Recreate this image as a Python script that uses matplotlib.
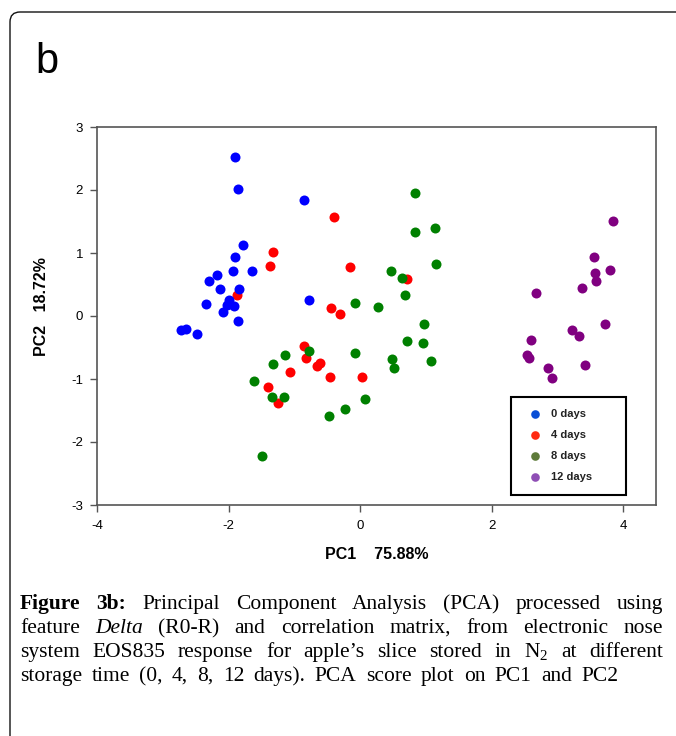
import numpy as np
import matplotlib
matplotlib.use("Agg")
import matplotlib.pyplot as plt
from matplotlib.patches import FancyBboxPatch
from matplotlib.lines import Line2D
from matplotlib.transforms import IdentityTransform

plt.rcParams['font.family'] = ['Liberation Sans', 'DejaVu Sans']
plt.rcParams['mathtext.fontset'] = 'custom'
plt.rcParams['mathtext.rm'] = 'Liberation Serif'
plt.rcParams['axes.unicode_minus'] = False

# PCA scores
pc1_0d = [-1.90, -1.85, -1.78, -1.90, -1.93, -1.65, -2.17, -2.30, -2.13, -1.84, -1.99,
          -2.03, -1.92, -2.35, -2.08, -1.85, -2.73, -2.64, -2.48, -0.86, -0.77]
pc2_0d = [2.52, 2.01, 1.12, 0.93, 0.71, 0.72, 0.65, 0.55, 0.43, 0.43, 0.25,
          0.17, 0.16, 0.19, 0.06, -0.08, -0.22, -0.20, -0.28, 1.84, 0.25]

pc1_4d = [-0.40, -1.32, -1.37, -0.16, 0.71, -1.87, -0.44, -0.31, -0.85, -0.82, -0.61,
          -0.66, -1.07, -0.45, 0.03, -1.40, -1.25]
pc2_4d = [1.57, 1.02, 0.80, 0.78, 0.59, 0.34, 0.13, 0.03, -0.47, -0.67, -0.74,
          -0.79, -0.89, -0.97, -0.97, -1.12, -1.38]

pc1_8d = [0.84, 0.84, 1.14, 1.16, 0.47, 0.64, 0.69, -0.07, 0.27, 0.97, 0.72, 0.95, 1.08,
          0.49, 0.51, -0.07, -0.77, -1.14, -1.32, -1.61, -1.34, -1.15, 0.08, -0.23, -0.47, -1.49]
pc2_8d = [1.95, 1.33, 1.39, 0.83, 0.72, 0.60, 0.33, 0.20, 0.14, -0.12, -0.39, -0.43, -0.71,
          -0.68, -0.82, -0.59, -0.55, -0.62, -0.76, -1.03, -1.28, -1.28, -1.31, -1.48, -1.58, -2.22]

pc1_12d = [3.85, 3.55, 3.58, 3.80, 3.59, 3.38, 2.67, 3.72, 3.23, 3.33, 2.60, 2.54, 2.57,
           3.42, 2.86, 2.92]
pc2_12d = [1.51, 0.93, 0.69, 0.73, 0.56, 0.45, 0.36, -0.13, -0.23, -0.31, -0.38, -0.62, -0.67,
           -0.77, -0.82, -0.98]

labels = ["0 days", "4 days", "8 days", "12 days"]
colors = ["#0000ff", "#ff0000", "#008000", "#800080"]
legend_colors = ["#0a4fd6", "#ff2a12", "#5e7b3a", "#8f4fb5"]

xticks = [-4, -2, 0, 2, 4]
yticks = [-3, -2, -1, 0, 1, 2, 3]

fig = plt.figure(figsize=(6.76, 7.36), dpi=100)

# rounded frame around the panel (runs off the right and bottom edges)
frame = FancyBboxPatch((10, -200), 2000, 724 + 200, boxstyle="round,pad=0,rounding_size=10",
                       transform=IdentityTransform(), fill=False, edgecolor="#111111", lw=1.0)
fig.add_artist(frame)

fig.text(35 / 676, 1 - 73 / 736, "b", fontsize=30, va="baseline")

ax = fig.add_axes([97 / 676, 1 - 505 / 736, 559 / 676, 378 / 736])
ax.plot(pc1_4d, pc2_4d, 'o', color=colors[1], ms=7.2, mec='none', zorder=2)
ax.plot(pc1_0d, pc2_0d, 'o', color=colors[0], ms=7.2, mec='none', zorder=3)
ax.plot(pc1_8d, pc2_8d, 'o', color=colors[2], ms=7.2, mec='none', zorder=4)
ax.plot(pc1_12d, pc2_12d, 'o', color=colors[3], ms=7.2, mec='none', zorder=5)

ax.set_xlim(-4, 4.5)
ax.set_ylim(-3, 3)
ax.set_xticks(xticks)
ax.set_yticks(yticks)
ax.tick_params(direction='out', length=5, width=1, color='#555555', labelsize=9.5)
ax.tick_params(axis='x', pad=6)
ax.tick_params(axis='y', pad=5)
for s in ax.spines.values():
    s.set_color('#555555')
    s.set_linewidth(1.2)

ax.set_xlabel("PC1    75.88%", fontsize=11.5, fontweight='bold')
ax.xaxis.set_label_coords(0.5, -0.112)
ax.set_ylabel("PC2   18.72%", fontsize=11.5, fontweight='bold')
ax.yaxis.set_label_coords(-0.085, 0.525)

handles = [Line2D([], [], marker='o', ls='', color=c, ms=6.2, mec='none') for c in legend_colors]
leg = ax.legend(handles, labels, loc='upper left', bbox_to_anchor=(0.741, 0.0317, 0.205, 0.254),
                mode='expand', borderaxespad=0, fancybox=False, framealpha=1,
                prop={'size': 8, 'weight': 'bold'}, labelspacing=0.99, borderpad=1.12,
                handlelength=2.0, handletextpad=0.5, labelcolor='#222222')
leg.get_frame().set_edgecolor('black')
leg.get_frame().set_linewidth(1.5)

# caption, justified word by word
def words(s, weight='normal', style='normal'):
    return [(w, weight, style) for w in s.split()]

cap_lines = [
    words("Figure 3b:", 'bold') + words("Principal Component Analysis (PCA) processed using"),
    words("feature") + words("Delta", style='italic')
    + words("(R0-R) and correlation matrix, from electronic nose"),
    words("system EOS835 response for apple\u2019s slice stored in") + [(r"N$_{2}$", 'normal', 'normal')]
    + words("at different"),
    words("storage time (0, 4, 8, 12 days). PCA score plot on PC1 and PC2"),
]
baselines = [609, 633, 657, 681]
line_ends = [663, 663, 663, 618]
x_left = 20
cap_size = 15.5

renderer = fig.canvas.get_renderer()
for i, line in enumerate(cap_lines):
    texts = []
    for w, wt, st in line:
        t = fig.text(0, 1 - baselines[i] / 736, w, fontsize=cap_size, family='Liberation Serif',
                     fontweight=wt, fontstyle=st, va='baseline', ha='left')
        texts.append(t)
    widths = [t.get_window_extent(renderer).width for t in texts]
    gap = (line_ends[i] - x_left - sum(widths)) / (len(texts) - 1)
    x = x_left
    for t, w in zip(texts, widths):
        t.set_x(x / 676)
        x += w + gap

fig.savefig("out.png", dpi=100)
